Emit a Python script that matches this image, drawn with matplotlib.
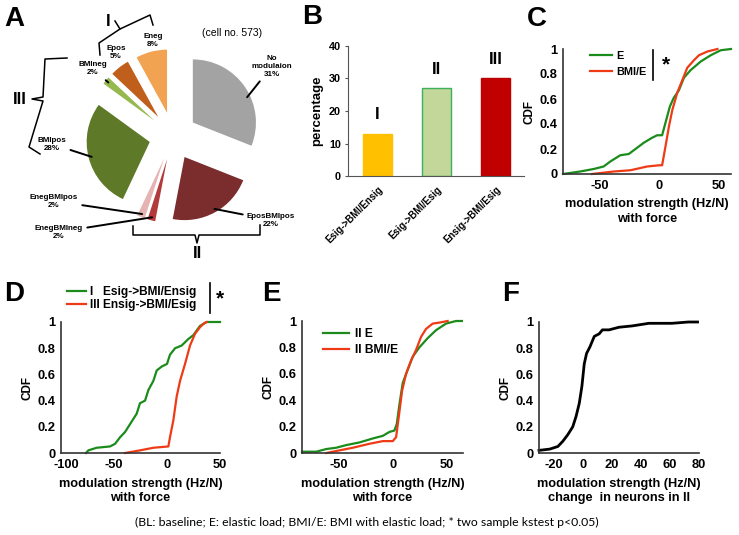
import numpy as np
import matplotlib
matplotlib.use('Agg')
import matplotlib.pyplot as plt
from matplotlib.lines import Line2D
from matplotlib.transforms import ScaledTranslation

plt.rcParams['font.family'] = ['Liberation Sans', 'DejaVu Sans']
plt.rcParams['font.weight'] = 'bold'

W, H = 739, 535

# panel A: share of cells per modulation class
pie_labels = ['No\nmodulaion', 'EposBMIpos', 'EnegBMIneg', 'EnegBMIpos',
              'BMIpos', 'BMIneg', 'Epos', 'Eneg']
pie_pct = [31, 22, 2, 2, 28, 2, 5, 8]
pie_colors = ['#a3a3a3', '#7b2c2c', '#b23a3a', '#e6b3b3',
              '#5e7a28', '#95b84f', '#c05e1c', '#f2a352']

# panel B
bar_names = ['Esig->BMI/Ensig', 'Esig->BMI/Esig', 'Ensig->BMI/Esig']
bar_groups = ['I', 'II', 'III']
bar_pct = [13, 27, 30]

# panel C: E vs BMI/E (all cells)
c_e_x = [-81, -66.6, -55.3, -46.9, -41.3, -32.9, -25.8, -18.8, -13.2, -6.2, -2, 2.2, 5,
         8.7, 12, 16.3, 20.5, 26, 34.6, 43, 51.4, 60]
c_e_y = [0, 0.02, 0.04, 0.06, 0.10, 0.15, 0.16, 0.21, 0.25, 0.29, 0.31, 0.31, 0.41,
         0.54, 0.61, 0.67, 0.77, 0.83, 0.90, 0.95, 0.99, 1.0]
c_bmi_x = [-56.7, -38.5, -24.4, -10.4, 0, 2.2, 5, 7.9, 10.7, 14.9, 19.1, 23.3, 28.9,
           33.1, 40.2, 48.6]
c_bmi_y = [0, 0.02, 0.03, 0.06, 0.07, 0.07, 0.22, 0.38, 0.51, 0.65, 0.75, 0.85, 0.91,
           0.95, 0.98, 1.0]

# panel D: group I vs group III
d_i_x = [-76.4, -74.2, -66.4, -53.8, -49, -44.3, -39.6, -34.9, -28.6, -25.5, -20.7,
         -17.6, -12.9, -9.7, -5, 0, 2.8, 7.6, 13.8, 20.1, 24.9, 31.1, 37.4, 45.3, 50]
d_i_y = [0, 0.02, 0.04, 0.05, 0.07, 0.12, 0.16, 0.22, 0.30, 0.38, 0.40, 0.48, 0.55,
         0.63, 0.66, 0.68, 0.75, 0.80, 0.82, 0.87, 0.90, 0.97, 1.0, 1.0, 1.0]
d_iii_x = [-39.6, -25.5, -12.9, 1.3, 2.8, 6, 9.1, 12.3, 17, 21.7, 26.4, 31.1, 34.9, 37.4]
d_iii_y = [0, 0.02, 0.04, 0.05, 0.12, 0.25, 0.43, 0.55, 0.68, 0.82, 0.91, 0.96, 0.99, 1.0]

# panel E: group II, E vs BMI/E
e_e_x = [-84, -70.8, -61.5, -52.3, -43, -30.8, -18.5, -9.2, -3, 1.5, 3.7, 6.2, 9.2,
         13.8, 18.5, 24.6, 32.3, 40, 49.2, 58.5, 64]
e_e_y = [0.01, 0.01, 0.03, 0.04, 0.06, 0.08, 0.11, 0.13, 0.16, 0.17, 0.22, 0.37, 0.53,
         0.63, 0.73, 0.80, 0.87, 0.93, 0.98, 1.0, 1.0]
e_bmi_x = [-61.5, -49.2, -36.9, -21.5, -9.2, 0, 3.1, 5.5, 8.6, 12.3, 16.9, 21.5, 26.2,
           30.8, 36.9, 44.6, 50.8]
e_bmi_y = [0, 0.02, 0.04, 0.07, 0.09, 0.09, 0.12, 0.27, 0.47, 0.60, 0.70, 0.78, 0.88,
           0.94, 0.98, 0.99, 1.0]

# panel F: change in modulation strength, group II
f_x = [-30, -22.5, -17, -13.6, -10.2, -6.8, -4.5, -2.3, -0.5, 1.1, 2.7, 5, 8, 11.4,
       13.6, 18.2, 25, 34, 45.5, 61.4, 72.7, 79]
f_y = [0.02, 0.03, 0.05, 0.09, 0.14, 0.20, 0.28, 0.38, 0.51, 0.68, 0.76, 0.81, 0.89,
       0.91, 0.94, 0.94, 0.96, 0.97, 0.99, 0.99, 1.0, 1.0]

GREEN = '#1b8c1b'
RED = '#ee3b16'
TICK_FS = 9.3
LABEL_FS = 9.2


def fx(x):
    return x / W


def fy(y):
    return 1 - y / H


def add_ax(fig, left, top, right, bottom):
    return fig.add_axes([left / W, 1 - bottom / H, (right - left) / W, (bottom - top) / H])


def fig_line(fig, pts, lw=1.1):
    xs = [fx(p[0]) for p in pts]
    ys = [fy(p[1]) for p in pts]
    fig.add_artist(Line2D(xs, ys, color='black', lw=lw, transform=fig.transFigure))


def style_cdf(ax, xlim, xticks, xlabel):
    ax.set_xlim(xlim)
    ax.set_ylim(0, 1)
    ax.set_yticks([0, 0.2, 0.4, 0.6, 0.8, 1])
    ax.set_yticklabels(['0', '0.2', '0.4', '0.6', '0.8', '1'])
    ax.set_xticks(xticks)
    ax.set_xticklabels(['%g' % t for t in xticks])
    for s in ['top', 'right']:
        ax.spines[s].set_visible(False)
    for s in ['left', 'bottom']:
        ax.spines[s].set_color('#333333')
        ax.spines[s].set_linewidth(1.2)
    ax.tick_params(length=0, labelsize=TICK_FS, pad=4)
    ax.set_ylabel('CDF', fontsize=8.5, fontweight='bold', labelpad=3)
    ax.set_xlabel(xlabel, fontsize=LABEL_FS, fontweight='bold', labelpad=5, linespacing=1.25)


fig = plt.figure(figsize=(W / 100, H / 100), dpi=100)

# ---------- A ----------
axa = fig.add_axes([81.5 / W, 1 - 227.5 / H, 183 / W, 183 / H])
wedges, _ = axa.pie(pie_pct, colors=pie_colors, startangle=90, counterclock=False,
                    explode=[0.38] * len(pie_pct), radius=1)
axa.set_xlim(-1.45, 1.45)
axa.set_ylim(-1.45, 1.45)
axa.set_aspect('equal')
axa.axis('off')

# text position (px) and attach angle for the leader line (None = no line, 'mid' = wedge middle)
label_pos = [(272, 66, 25), (271, 220, -60), (59, 232, 'mid'), (54, 201, 'mid'),
             (52, 144, 'mid'), (93, 69, 'mid'), (116, 53, None), (153, 40, None)]
for w, name, pct, (tx, ty, att) in zip(wedges, pie_labels, pie_pct, label_pos):
    txt = '%s\n%d%%' % (name, pct)
    if att is None:
        fig.text(fx(tx), fy(ty), txt, ha='center', va='center', fontsize=5.8,
                 fontweight='bold', linespacing=1.2)
        continue
    ang = (w.theta1 + w.theta2) / 2 if att == 'mid' else att
    cx, cy = w.center
    px = cx + 0.95 * w.r * np.cos(np.radians(ang))
    py = cy + 0.95 * w.r * np.sin(np.radians(ang))
    axa.annotate(txt, xy=(px, py), xytext=(fx(tx), fy(ty)), textcoords='figure fraction',
                 ha='center', va='center', fontsize=5.8, fontweight='bold', linespacing=1.2,
                 arrowprops=dict(arrowstyle='-', lw=1.4, color='black', shrinkA=1, shrinkB=0))

fig.text(fx(232), fy(33), '(cell no. 573)', ha='center', va='center', fontsize=7.5,
         fontweight='normal')

# group braces
fig_line(fig, [(100, 55), (99, 43), (120, 29), (115, 21)])
fig_line(fig, [(120, 29), (150, 15), (153, 25)])
fig.text(fx(108), fy(22), 'I', ha='center', va='center', fontsize=12, fontweight='bold')
fig_line(fig, [(67, 58), (45, 59), (43, 97), (32, 99), (43, 101), (29, 147), (40, 154)])
fig.text(fx(20), fy(100), 'III', ha='center', va='center', fontsize=12, fontweight='bold')
fig_line(fig, [(133, 226), (133, 235), (195, 235), (197, 243), (199, 235), (260, 235), (260, 225)])
fig.text(fx(197), fy(253), 'II', ha='center', va='center', fontsize=12, fontweight='bold')

# ---------- B ----------
axb = add_ax(fig, 348, 46, 524, 176)
xb = np.arange(len(bar_pct))
axb.bar(xb, bar_pct, width=0.48, color=['#ffc000', '#c4d79b', '#c00000'],
        edgecolor=['#ffc000', '#3cb05a', '#c00000'], linewidth=1)
for i, v in enumerate(bar_pct):
    axb.text(i, v + 3.5, bar_groups[i], ha='center', va='bottom', fontsize=12, fontweight='bold')
axb.set_xlim(-0.5, 2.48)
axb.set_ylim(0, 40)
axb.set_yticks([0, 10, 20, 30, 40])
axb.set_xticks(xb)
axb.set_xticklabels(bar_names, rotation=45, ha='right', rotation_mode='anchor', fontsize=6.9)
for s in ['top', 'right']:
    axb.spines[s].set_visible(False)
for s in ['left', 'bottom']:
    axb.spines[s].set_color('#555555')
axb.tick_params(axis='y', length=2, labelsize=7.8, pad=3, color='#555555')
axb.tick_params(axis='x', length=0, pad=6)
axb.set_ylabel('percentage', fontsize=9.5, fontweight='bold', labelpad=4)

# ---------- C ----------
axc = add_ax(fig, 563, 49, 731, 174)
axc.plot(c_e_x, c_e_y, color=GREEN, lw=1.6, label='E', clip_on=False)
axc.plot(c_bmi_x, c_bmi_y, color=RED, lw=1.6, label='BMI/E', clip_on=False)
style_cdf(axc, (-81, 60), [-50, 0, 50], 'modulation strength (Hz/N)\nwith force')
axc.legend(loc='upper left', bbox_to_anchor=(0.13, 1.03), frameon=False, fontsize=7.8,
           handlelength=2.0, handletextpad=0.4, labelspacing=0.6, borderpad=0)
axc.add_artist(Line2D([0.536, 0.536], [0.75, 0.99], color='black', lw=1.2,
                      transform=axc.transAxes, clip_on=False))
axc.text(0.61, 0.87, '*', transform=axc.transAxes, ha='center', va='center', fontsize=15)

# ---------- D ----------
axd = add_ax(fig, 61, 322, 220, 453)
axd.plot(d_i_x, d_i_y, color=GREEN, lw=1.6, label='I   Esig->BMI/Ensig', clip_on=False)
axd.plot(d_iii_x, d_iii_y, color=RED, lw=1.6, label='III Ensig->BMI/Esig', clip_on=False)
style_cdf(axd, (-100, 50), [-100, -50, 0, 50], 'modulation strength (Hz/N)\nwith force')
# the -100 label sits a bit right of the axis corner in the original
lab0 = axd.get_xticklabels()[0]
lab0.set_transform(lab0.get_transform() + ScaledTranslation(5 / 100, 0, fig.dpi_scale_trans))
axd.legend(loc='upper left', bbox_to_anchor=(0.0, 1.32), frameon=False, fontsize=8.6,
           handlelength=1.6, handletextpad=0.3, labelspacing=0.1, borderpad=0)
axd.add_artist(Line2D([0.937, 0.937], [1.07, 1.30], color='black', lw=1.2,
                      transform=axd.transAxes, clip_on=False))
axd.text(1.0, 1.18, '*', transform=axd.transAxes, ha='center', va='center', fontsize=15)

# ---------- E ----------
axe = add_ax(fig, 302, 321, 463, 453)
axe.plot(e_e_x, e_e_y, color=GREEN, lw=1.6, label='II E', clip_on=False)
axe.plot(e_bmi_x, e_bmi_y, color=RED, lw=1.6, label='II BMI/E', clip_on=False)
style_cdf(axe, (-84, 65), [-50, 0, 50], 'modulation strength (Hz/N)\nwith force')
axe.legend(loc='upper left', bbox_to_anchor=(0.09, 0.99), frameon=False, fontsize=8.7,
           handlelength=2.2, handletextpad=0.5, labelspacing=0.3, borderpad=0)

# ---------- F ----------
axf = add_ax(fig, 539, 322, 699, 453)
axf.plot(f_x, f_y, color='black', lw=2, clip_on=False)
style_cdf(axf, (-30, 80), [-20, 0, 20, 40, 60, 80],
          'modulation strength (Hz/N)\nchange  in neurons in II')

# panel letters
for letter, (lx, ly) in zip('ABCDEF', [(4, 6), (302, 4), (527, 6), (4, 281), (262, 281), (502, 281)]):
    fig.text(fx(lx), fy(ly), letter, ha='left', va='top', fontsize=20, fontweight='bold')

fig.text(fx(367), fy(522),
         '(BL: baseline; E: elastic load; BMI/E: BMI with elastic load; * two sample kstest p<0.05)',
         ha='center', va='center', fontsize=8.8, fontweight='normal', family=['Lato', 'DejaVu Sans'])

fig.savefig('out.png', dpi=100)
